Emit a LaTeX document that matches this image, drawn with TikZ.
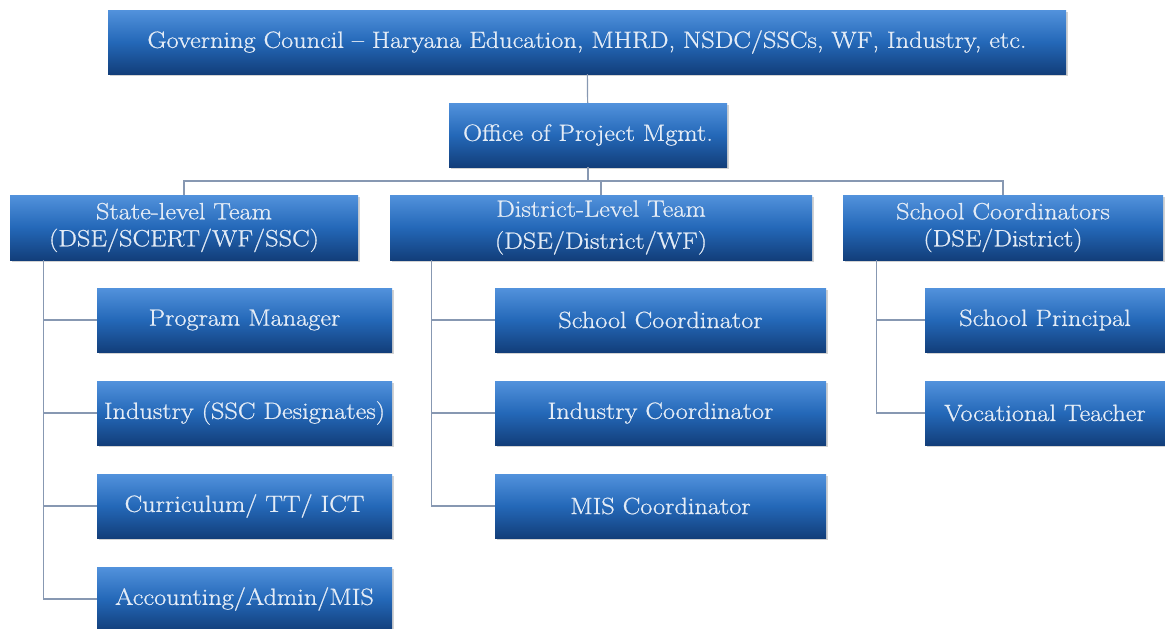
\documentclass[tikz,border=0pt]{standalone}
\usepackage{fontspec}
\setmainfont{Latin Modern Roman}[FakeBold=0.8,FakeStretch=1.12]
\usetikzlibrary{shadows}
\definecolor{boxtop}{RGB}{82,146,220}
\definecolor{boxmid}{RGB}{36,104,184}
\definecolor{boxbottom}{RGB}{18,62,122}
\definecolor{boxtext}{RGB}{228,236,246}
\definecolor{linkline}{RGB}{135,152,178}
\tikzset{
  unit/.style = {
    top color=boxtop, bottom color=boxbottom, middle color=boxmid, text=boxtext,
    align=center, inner sep=0pt, minimum height=64,
    font=\fontsize{23.5}{27}\selectfont,
    drop shadow={opacity=0.35, shadow xshift=2pt, shadow yshift=-2pt}
  },
  link/.style = {draw=linkline, line width=1.2pt},
}

\begin{document}
\begin{tikzpicture}[x=1pt,y=-1pt]
  \pgfmathsetmacro{\rowgap}{93};
  \pgfmathsetmacro{\rowtop}{320};
  \useasboundingbox (0,0) rectangle (1165,629);
  \clip (0,0) rectangle (1165,629);
  % council and office
  \node[unit,minimum width=958] (gc) at (587,42) {Governing Council -- Haryana Education, MHRD, NSDC/SSCs, WF, Industry, etc.};
  \node[unit,minimum width=278] (opm) at (588,135) {Office of Project Mgmt.};
  \draw[link] (gc) -- (opm);
  % teams
  \coordinate (bus) at (588,181);
  \node[unit,minimum width=348,minimum height=65] (slt) at (184,227.5) {State-level Team\\(DSE/SCERT/WF/SSC)};
  \node[unit,minimum width=422,minimum height=65] (dlt) at (601,227.5) {District-Level Team\\[5pt](DSE/District/WF)};
  \node[unit,minimum width=320,minimum height=65] (sco) at (1003,227.5) {School Coordinators\\(DSE/District)};
  \draw[link] (opm.south) -- (bus);
  \draw[link] (slt.north) |- (bus) -| (sco.north);
  \draw[link] (dlt.north) -- (dlt.north |- bus);
  % state-level staff
  \foreach \txt [count=\i from 0] in {Program Manager, Industry (SSC Designates), {Curriculum/ TT/ ICT}, Accounting/Admin/MIS} {%
    \node[unit,minimum width=295] (state\i) at (244.5,{\rowtop+\i*\rowgap}) {\txt};
    \draw[link] ([xshift=34]slt.south west) |- (state\i.west);
  }
  % district-level staff
  \foreach \txt [count=\i from 0] in {School Coordinator, Industry Coordinator, MIS Coordinator} {%
    \node[unit,minimum width=331] (district\i) at (660.5,{\rowtop+\i*\rowgap}) {\txt};
    \draw[link] ([xshift=42]dlt.south west) |- (district\i.west);
  }
  % school staff
  \foreach \txt [count=\i from 0] in {School Principal, Vocational Teacher} {%
    \node[unit,minimum width=240] (school\i) at (1045,{\rowtop+\i*\rowgap}) {\txt};
    \draw[link] ([xshift=34]sco.south west) |- (school\i.west);
  }
\end{tikzpicture}
\end{document}
